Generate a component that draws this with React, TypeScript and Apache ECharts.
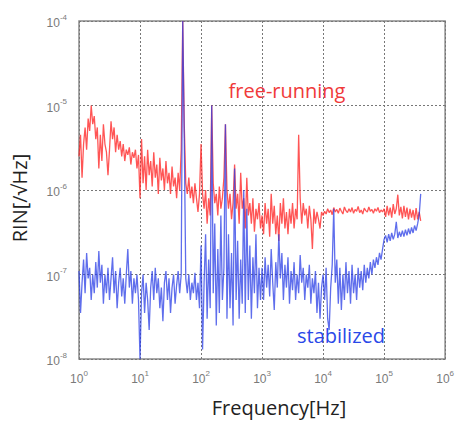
import React, { useEffect, useRef } from "react";
import * as echarts from "echarts";

// Frequencies are sampled on a log grid: f_i = 10^(i / POINTS_PER_DECADE), 1 Hz .. ~400 kHz
const POINTS_PER_DECADE = 40;
// RIN values below are in units of 1e-7 /sqrt(Hz)
const RIN_UNIT = 1e-7;

const freeRunning = [
  // 1 - 10 Hz
  25, 45, 14, 35, 55, 30, 70, 50, 100, 60, 75, 40, 55, 18, 45, 22, 60, 35, 28, 15,
  30, 65, 40, 55, 28, 45, 30, 38, 25, 35, 22, 30, 26, 32, 20, 28, 24, 30, 18, 26,
  // 10 - 100 Hz
  8, 40, 12, 25, 10, 30, 15, 22, 11, 28, 14, 20, 9, 24, 13, 18, 10, 22, 12, 16,
  9, 19, 11, 14, 8, 16, 10, 30, 1000, 60, 12, 9, 14, 8, 11, 7, 12, 8, 5.5, 9,
  // 100 Hz - 1 kHz
  35, 9, 6, 10, 4, 8, 5, 100, 12, 7, 9, 5, 11, 6, 8, 14, 60, 10, 6, 9,
  4.5, 7, 20, 6, 9, 4, 16, 6, 8, 3.5, 14, 5, 7, 4, 8, 3.2, 6, 4.5, 7, 3.5,
  // 1 - 10 kHz
  5, 3, 7, 4, 6, 2.8, 9, 4, 6.5, 3, 5, 2.5, 7, 4, 8, 3.5, 5.5, 3, 6, 4,
  7, 3.5, 6, 4.5, 45, 8, 4, 7, 5, 6, 3.5, 6.5, 4.5, 2, 6, 4, 5.5, 4.5, 3.5, 5.5,
  // 10 - 100 kHz
  5, 5.6, 5.2, 6, 5.4, 5.8, 5.1, 6.2, 5.5, 5.9, 5.3, 6.1, 5.6, 5.2, 6.3, 5.7, 5.4, 6, 5.5, 6.2,
  5.3, 5.9, 5.6, 6.4, 5.4, 5.8, 5.2, 6.1, 5.7, 5.5, 6.3, 5.6, 5.9, 5.3, 6, 5.6, 6.2, 5.4, 5.8, 5.5,
  // 100 - 400 kHz
  6, 4.8, 6.5, 5, 6.2, 4.7, 6.8, 5.2, 6, 8.8, 5, 6.3, 4.6, 6.5, 4.8, 6.2, 4.5, 6, 4.7, 5.8,
  4.4, 6.1, 4.5, 5.5, 4.3,
];

const stabilized = [
  // 1 - 10 Hz
  1.1, 0.35, 0.8, 1.5, 0.6, 1.8, 0.9, 1.2, 0.5, 1.0, 0.6, 1.4, 0.7, 1.9, 0.8, 1.3, 0.45, 1.0, 0.6, 1.2,
  0.5, 0.9, 1.6, 0.6, 1.1, 0.4, 0.8, 1.2, 0.55, 0.9, 0.45, 1.0, 2.0, 0.7, 1.1, 0.45, 0.9, 0.6, 1.0, 0.5,
  // 10 - 100 Hz
  0.1, 0.6, 1.0, 0.35, 0.8, 0.5, 0.22, 0.7, 1.1, 0.5, 1.2, 0.6, 0.9, 0.4, 0.7, 0.28, 0.8, 1.1, 0.5, 0.9,
  0.35, 0.7, 1.0, 0.45, 0.75, 1.1, 0.6, 1.0, 1000, 40, 0.9, 0.6, 1.0, 0.5, 0.8, 0.6, 1.05, 0.5, 0.8, 0.4,
  // 100 Hz - 1 kHz
  2.2, 0.13, 0.8, 3, 0.3, 1.5, 0.4, 100, 0.6, 4, 0.25, 2, 0.35, 5, 0.5, 1.2, 60, 0.3, 3, 0.4,
  1.8, 0.25, 18, 0.5, 2.5, 0.3, 1.5, 0.45, 10, 0.35, 6, 0.5, 2.2, 0.3, 1.6, 0.6, 3, 0.4, 1.2, 0.5,
  // 1 - 10 kHz
  1.2, 0.5, 1.6, 0.7, 1.3, 0.55, 2.0, 0.8, 0.38, 1.4, 0.7, 3, 0.9, 1.8, 0.5, 1.3, 0.7, 1.6, 0.45, 1.1,
  0.65, 1.4, 0.5, 1.0, 0.6, 1.7, 0.8, 1.2, 0.5, 1.0, 0.7, 1.3, 0.45, 0.9, 0.6, 1.1, 0.35, 0.8, 0.3, 0.7,
  // 10 - 100 kHz
  1.0, 0.5, 1.2, 0.3, 0.22, 0.7, 1.3, 6, 0.8, 1.5, 0.45, 1.2, 0.38, 1.0, 0.5, 1.4, 0.6, 1.1, 0.45, 1.3,
  0.6, 1.0, 0.5, 1.2, 0.7, 1.1, 0.65, 1.3, 0.8, 1.2, 0.9, 1.4, 1.0, 1.5, 1.2, 1.6, 1.3, 1.8, 1.5, 2.0,
  // 100 - 400 kHz
  2.6, 2.9, 2.4, 3.0, 2.5, 3.1, 2.6, 3.0, 4.2, 2.7, 3.2, 2.8, 3.3, 2.8, 3.4, 2.9, 3.5, 3.0, 3.6, 3.1,
  3.8, 3.3, 4.0, 5.0, 9,
];

const X_MIN = 1;
const X_MAX = 1e6;
const Y_MIN = 1e-8;
const Y_MAX = 1e-4;

const toPoints = (vals: number[]) =>
  vals.map((v, i) => [Math.pow(10, i / POINTS_PER_DECADE), v * RIN_UNIT]);

const RED = "#ff2a2a";
const BLUE = "#2a3ee6";
const TICK_COLOR = "#7a7a7a";

const powerLabel = (v: number) => {
  const e = Math.round(Math.log10(v));
  return `{b|10}{e|${e}}`;
};

const tickRich = {
  b: { fontSize: 12, color: TICK_COLOR, fontFamily: "Liberation Sans", lineHeight: 16, verticalAlign: "bottom" },
  e: { fontSize: 8, color: TICK_COLOR, fontFamily: "Liberation Sans", lineHeight: 16, verticalAlign: "top", padding: [0, 0, 6, 0] },
};

const TITLE_FONT = "20px 'Open Sans'";

export default function App() {
  const ref = useRef<HTMLDivElement>(null);

  useEffect(() => {
    if (!ref.current) return;
    const chart = echarts.init(ref.current, undefined, { renderer: "svg" });
    chart.setOption({
      animation: false,
      backgroundColor: "#ffffff",
      grid: {
        left: 79,
        top: 21,
        right: 10,
        bottom: 64,
        show: true,
        borderColor: "#8a8a8a",
        borderWidth: 1.5,
        backgroundColor: "transparent",
      },
      xAxis: {
        type: "log",
        logBase: 10,
        min: X_MIN,
        max: X_MAX,
        splitNumber: 6,
        axisLine: { show: false },
        axisTick: { show: false },
        axisLabel: { margin: 10, formatter: powerLabel, rich: tickRich },
        splitLine: { show: true, lineStyle: { color: "#777", type: [2, 2], width: 1 } },
      },
      yAxis: {
        type: "log",
        logBase: 10,
        min: Y_MIN,
        max: Y_MAX,
        splitNumber: 4,
        axisLine: { show: false },
        axisTick: { show: false },
        axisLabel: { margin: 12, formatter: powerLabel, rich: tickRich },
        splitLine: { show: true, lineStyle: { color: "#777", type: [2, 2], width: 1 } },
      },
      graphic: [
        {
          type: "text",
          x: 279,
          y: 407,
          style: {
            text: "Frequency[Hz]",
            fill: "#222",
            font: TITLE_FONT,
            align: "center",
            verticalAlign: "middle",
          },
        },
        {
          type: "text",
          x: 19,
          y: 198,
          rotation: Math.PI / 2,
          style: {
            text: "RIN[/\u221AHz]",
            fill: "#222",
            font: TITLE_FONT,
            align: "center",
            verticalAlign: "middle",
          },
        },
        {
          type: "text",
          x: 287,
          y: 90,
          style: {
            text: "free-running",
            fill: "#f03a3a",
            font: TITLE_FONT,
            align: "center",
            verticalAlign: "middle",
          },
        },
        {
          type: "text",
          x: 341,
          y: 335,
          style: {
            text: "stabilized",
            fill: "#2a48e8",
            font: TITLE_FONT,
            align: "center",
            verticalAlign: "middle",
          },
        },
      ],
      series: [
        {
          name: "free-running",
          type: "line",
          data: toPoints(freeRunning),
          showSymbol: false,
          symbol: "none",
          lineStyle: { color: RED, width: 1.3, opacity: 0.8 },
          z: 2,
        },
        {
          name: "stabilized",
          type: "line",
          data: toPoints(stabilized),
          showSymbol: false,
          symbol: "none",
          lineStyle: { color: BLUE, width: 1.3, opacity: 0.75 },
          z: 3,
        },
      ],
    });
    return () => chart.dispose();
  }, []);

  return (
    <div
      ref={ref}
      style={{ position: "fixed", left: 0, top: 0, width: 457, height: 423, background: "#fff" }}
    />
  );
}
